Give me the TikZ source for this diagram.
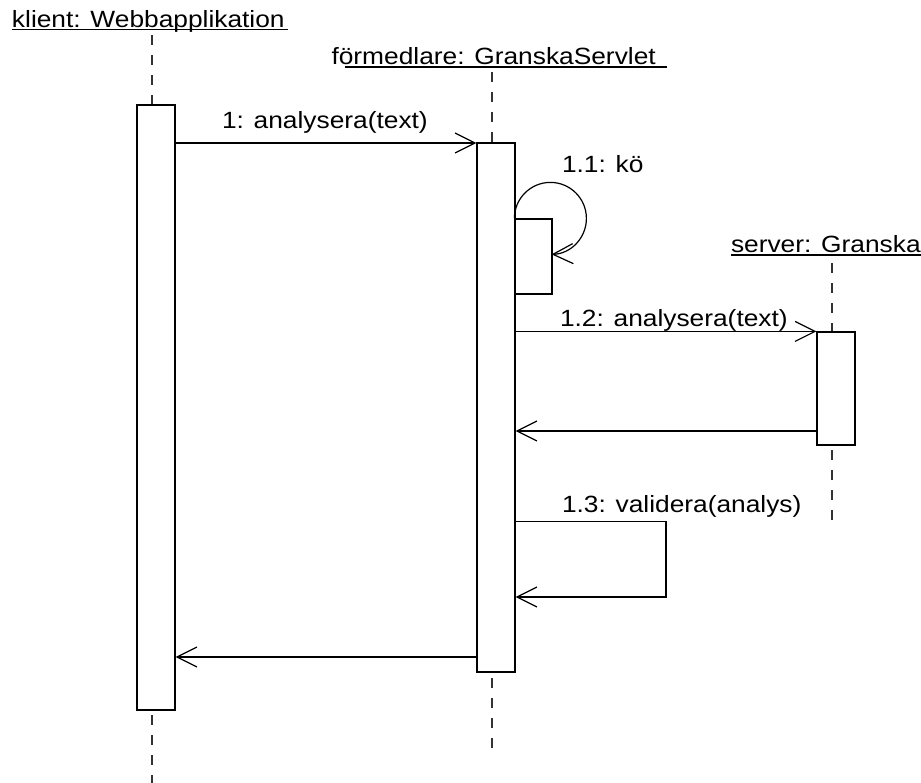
\documentclass[tikz,border=0pt]{standalone}
\usepackage{fontspec}
\setmainfont{Liberation Sans}
\usetikzlibrary{arrows.meta}
\newcommand{\lbl}[1]{\scalebox{1.12}[1]{\fontsize{23.5}{25}\selectfont #1}}
\begin{document}
\begin{tikzpicture}[x=1pt,y=-1pt,
  act/.style={draw=black,line width=1.2pt,fill=white,inner sep=0pt,rectangle},
  life/.style={draw=black!80,line width=1.3pt,dash pattern=on 10pt off 10pt},
  msg/.style={draw=black,line width=1.2pt,-{Straight Barb[length=20pt,width=20pt,line width=1.2pt]}},
  txt/.style={anchor=base west,inner sep=0pt,outer sep=0pt},
  uline/.style={draw=black,line width=1.2pt}]
\useasboundingbox (0,0) rectangle (921,782);
% headers
\node[txt] (hk) at (12,27) {\lbl{klient: Webbapplikation}};
\node[txt] (hf) at (331.5,64.5) {\lbl{förmedlare: GranskaServlet}};
\node[txt] (hs) at (731,252.5) {\lbl{server: Granska}};
\draw[uline] (12,29.5) -- (288,29.5);
\draw[uline] (345,67) -- (667,67);
\draw[uline] (731,255) -- (921,255);
% lifelines
\coordinate (k1) at (152,35);  \coordinate (k2) at (152,105);
\coordinate (k3) at (152,715); \coordinate (k4) at (152,790);
\coordinate (f1) at (492,72);  \coordinate (f2) at (492,143);
\coordinate (f3) at (492,678); \coordinate (f4) at (492,748);
\coordinate (s1) at (832,263); \coordinate (s2) at (832,332);
\coordinate (s3) at (832,450); \coordinate (s4) at (832,520);
\draw[life] (k1) -- (k2);
\draw[life] (k3) -- (k4);
\draw[life] (f1) -- (f2);
\draw[life] (f3) -- (f4);
\draw[life] (s1) -- (s2);
\draw[life] (s3) -- (s4);
% activations
\node[act,minimum width=38pt,minimum height=605pt] (ka) at (156,407.5) {};
\node[act,minimum width=38pt,minimum height=529pt] (fa) at (496,407.5) {};
\node[act,minimum width=37pt,minimum height=75pt] (self) at (533.5,256.5) {};
\node[act,minimum width=38pt,minimum height=113pt] (sa) at (836,388.5) {};
% message levels
\coordinate (y1) at (0,143);
\coordinate (y2) at (0,431);
\coordinate (y3) at (0,521.5);
\coordinate (y4) at (0,597);
\coordinate (y5) at (0,657);
\coordinate (c13) at (666,521.5);
\coordinate (d13) at (666,597);
% messages
\draw[msg] (ka.east |- y1) -- (fa.west |- y1);
\node[txt] (l1) at (222,128) {\lbl{1: analysera(text)}};
\draw[msg] (self.north west) arc[start angle=180,end angle=448,radius=36];
\node[txt] (l11) at (562,172.5) {\lbl{1.1: kö}};
\draw[msg] (fa.east |- sa.north) -- (sa.north west);
\node[txt] (l12) at (560,326.5) {\lbl{1.2: analysera(text)}};
\draw[msg] (sa.west |- y2) -- (fa.east |- y2);
\draw[msg] (fa.east |- y3) -- (c13) -- (d13) -- (fa.east |- y4);
\node[txt] (l13) at (562,512.5) {\lbl{1.3: validera(analys)}};
\draw[msg] (fa.west |- y5) -- (ka.east |- y5);
\end{tikzpicture}
\end{document}
